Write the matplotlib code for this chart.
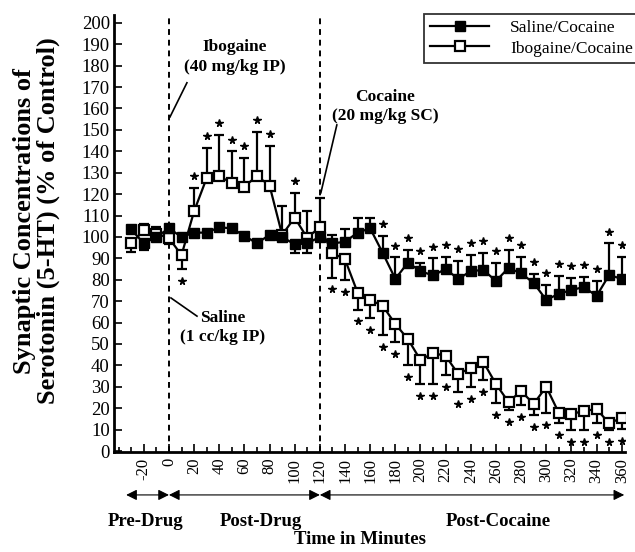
import numpy as np
import matplotlib
matplotlib.use('Agg')
import matplotlib.pyplot as plt
import matplotlib.transforms as mtransforms

plt.rcParams['font.family'] = ['Liberation Serif', 'DejaVu Serif']

# time of each sample, minutes
minutes = list(range(-30, 361, 10))

saline = [103.5, 97, 100, 104, 100, 102, 102, 104.5, 104, 100.5, 97, 101, 100,
          96.5, 97, 100, 97, 97.7, 102, 104, 92.5, 80.4, 88, 84, 82, 85,
          80.4, 84, 84.6, 79.4, 85.5, 83, 78.5, 70.6, 73.4, 75.2, 76.6, 72.4, 82.2, 80.4]
saline_err_up = [0, 0, 2, 0, 0, 0, 0, 0, 0, 0, 0, 0, 0,
                 0, 0, 0, 4, 6, 7, 5, 8, 10, 6, 4, 8, 5.5,
                 8.4, 7.6, 8, 8.6, 8.5, 7.6, 4.2, 7, 8.4, 5.6, 4.7, 7, 14.8, 10.2]
saline_err_dn = [0, 3, 0, 0, 0, 0, 0, 0, 0, 0, 0, 0, 0,
                 4, 4.5, 0, 0, 0, 0, 0, 0, 0, 0, 0, 0, 0,
                 0, 0, 0, 0, 0, 0, 0, 0, 0, 0, 0, 0, 0, 0]
saline_sig = [0] * 20 + [1] * 20

ibogaine = [97, 103, 101.5, 99.5, 91.5, 112, 127.5, 128.5, 125, 123.5, 128.5, 124, 101,
            109, 99.5, 104.7, 92.5, 89.5, 74, 70.6, 67.8, 59.3, 52.3, 42.5, 45.8, 44.4,
            36, 38.8, 41.6, 31.3, 22.9, 28, 22, 30, 17.8, 17.3, 18.7, 19.6, 13, 15.4]
ibogaine_err_up = [0, 3, 3, 0, 0, 11, 14, 19, 15, 13.5, 20.5, 18.5, 13.5,
                   11.5, 12.5, 13.3, 0, 0, 0, 0, 0, 0, 0, 0, 0, 0,
                   0, 0, 0, 0, 0, 0, 0, 0, 0, 0, 0, 0, 0, 0]
ibogaine_err_dn = [4, 0, 0, 3, 6.5, 0, 0, 0, 0, 0, 0, 0, 0,
                   0, 0, 0, 11.5, 9.5, 8, 8.6, 13.8, 8.3, 12.3, 11.2, 14.5, 8.9,
                   8.4, 8.8, 8.4, 8.9, 3.7, 6.5, 5.2, 12.2, 4.8, 7.5, 8.9, 6.6, 3.2, 5.1]
ibogaine_sig = [0, 0, 0, 0, 1, 1, 1, 1, 1, 1, 1, 1, 0,
                1, 0, 0] + [1] * 24

xtick_labels = list(range(-20, 361, 20))
ytick_labels = list(range(0, 201, 10))

fig = plt.figure(figsize=(6.35, 5.52), dpi=100)
ax = fig.add_axes([0.1795, 0.181, 0.8045, 0.792])

t = np.array(minutes)

ax.errorbar(t, saline, yerr=[saline_err_dn, saline_err_up], fmt='none',
            ecolor='black', elinewidth=1.6, capsize=3.5, capthick=1.6, zorder=2)
ax.errorbar(t, ibogaine, yerr=[ibogaine_err_dn, ibogaine_err_up], fmt='none',
            ecolor='black', elinewidth=1.6, capsize=3.5, capthick=1.6, zorder=2)
ax.plot(t, saline, color='black', lw=1.6, marker='s', ms=7.5,
        mfc='black', mec='black', zorder=4, label='Saline/Cocaine')
ax.plot(t, ibogaine, color='black', lw=1.6, marker='s', ms=7.5,
        mfc='white', mec='black', mew=1.6, zorder=3, label='Ibogaine/Cocaine')

# significance stars above/below the error bars
for vals, up, dn, sig in [(saline, saline_err_up, saline_err_dn, saline_sig),
                          (ibogaine, ibogaine_err_up, ibogaine_err_dn, ibogaine_sig)]:
    for x, v, u, d, s in zip(t, vals, up, dn, sig):
        if not s:
            continue
        if u > 0:
            ys = v + u + 5.5
        else:
            ys = v - d - 5.5
        ax.plot(x, ys, marker='*', ms=5.5, color='black', zorder=5)

ax.axvline(0, color='black', ls=(0, (3, 2.5)), lw=1.4, zorder=1)
ax.axvline(120, color='black', ls=(0, (3, 2.5)), lw=1.4, zorder=1)

ax.set_xlim(-43.7, 362.5)
ax.set_ylim(-0.5, 203.7)
ax.set_yticks(ytick_labels)
ax.set_yticklabels([str(v) for v in ytick_labels], fontsize=13.5)
ax.set_xticks(xtick_labels)
ax.set_xticklabels([str(v) for v in xtick_labels], fontsize=12, rotation=90)
ax.set_xticks(list(range(-40, 361, 10)), minor=True)
ax.tick_params(axis='x', which='major', direction='in', length=6, width=1.2, pad=4)
ax.tick_params(axis='x', which='minor', direction='in', length=3.5, width=1.2)
ax.tick_params(axis='y', which='major', direction='in', length=6, width=1.2, pad=3)
for side in ['top', 'right']:
    ax.spines[side].set_visible(False)
ax.spines['left'].set_linewidth(2)
ax.spines['bottom'].set_linewidth(2)

bold = dict(fontsize=12.5, fontweight='bold', ha='center', va='center', linespacing=1.3)
ax.text(52.5, 184, 'Ibogaine\n(40 mg/kg IP)', **bold)
ax.plot([14.3, 0.8], [172, 156], color='black', lw=1.2)
ax.text(172, 161, 'Cocaine\n(20 mg/kg SC)', **bold)
ax.plot([133.5, 120.8], [152.3, 120.6], color='black', lw=1.2)
ax.text(43, 57.7, 'Saline\n(1 cc/kg IP)', **bold)
ax.plot([22.3, 1.6], [63, 71.5], color='black', lw=1.2)

leg = ax.legend(loc='upper left', bbox_to_anchor=(0.668, 0.975),
                bbox_transform=fig.transFigure, fontsize=12.5, frameon=True,
                fancybox=False, borderaxespad=0, handlelength=3.4,
                borderpad=0.35, labelspacing=0.25, handletextpad=1.2)
leg.get_frame().set_edgecolor('black')
leg.get_frame().set_linewidth(1.3)

# period arrows under the axis
trans = mtransforms.blended_transform_factory(ax.transData, ax.transAxes)
arr = dict(arrowstyle='<|-|>', mutation_scale=16, lw=0.8, color='black',
           shrinkA=0, shrinkB=0)
for a, b in [(-34, 0), (0, 120), (120, 362)]:
    ax.annotate('', xy=(a, -0.098), xytext=(b, -0.098), xycoords=trans,
                textcoords=trans, arrowprops=arr, annotation_clip=False)
lab = dict(fontsize=13.5, fontweight='bold', ha='center', va='center', transform=trans)
ax.text(-19, -0.158, 'Pre-Drug', **lab)
ax.text(73, -0.158, 'Post-Drug', **lab)
ax.text(262, -0.158, 'Post-Cocaine', **lab)
ax.text(152, -0.2, 'Time in Minutes', **lab)

fig.text(0.058, 0.6, 'Synaptic Concentrations of\nSerotonin (5-HT) (% of Control)',
         rotation=90, ha='center', va='center', fontsize=19, fontweight='bold',
         linespacing=1.05)

fig.savefig('out.png', dpi=100)
